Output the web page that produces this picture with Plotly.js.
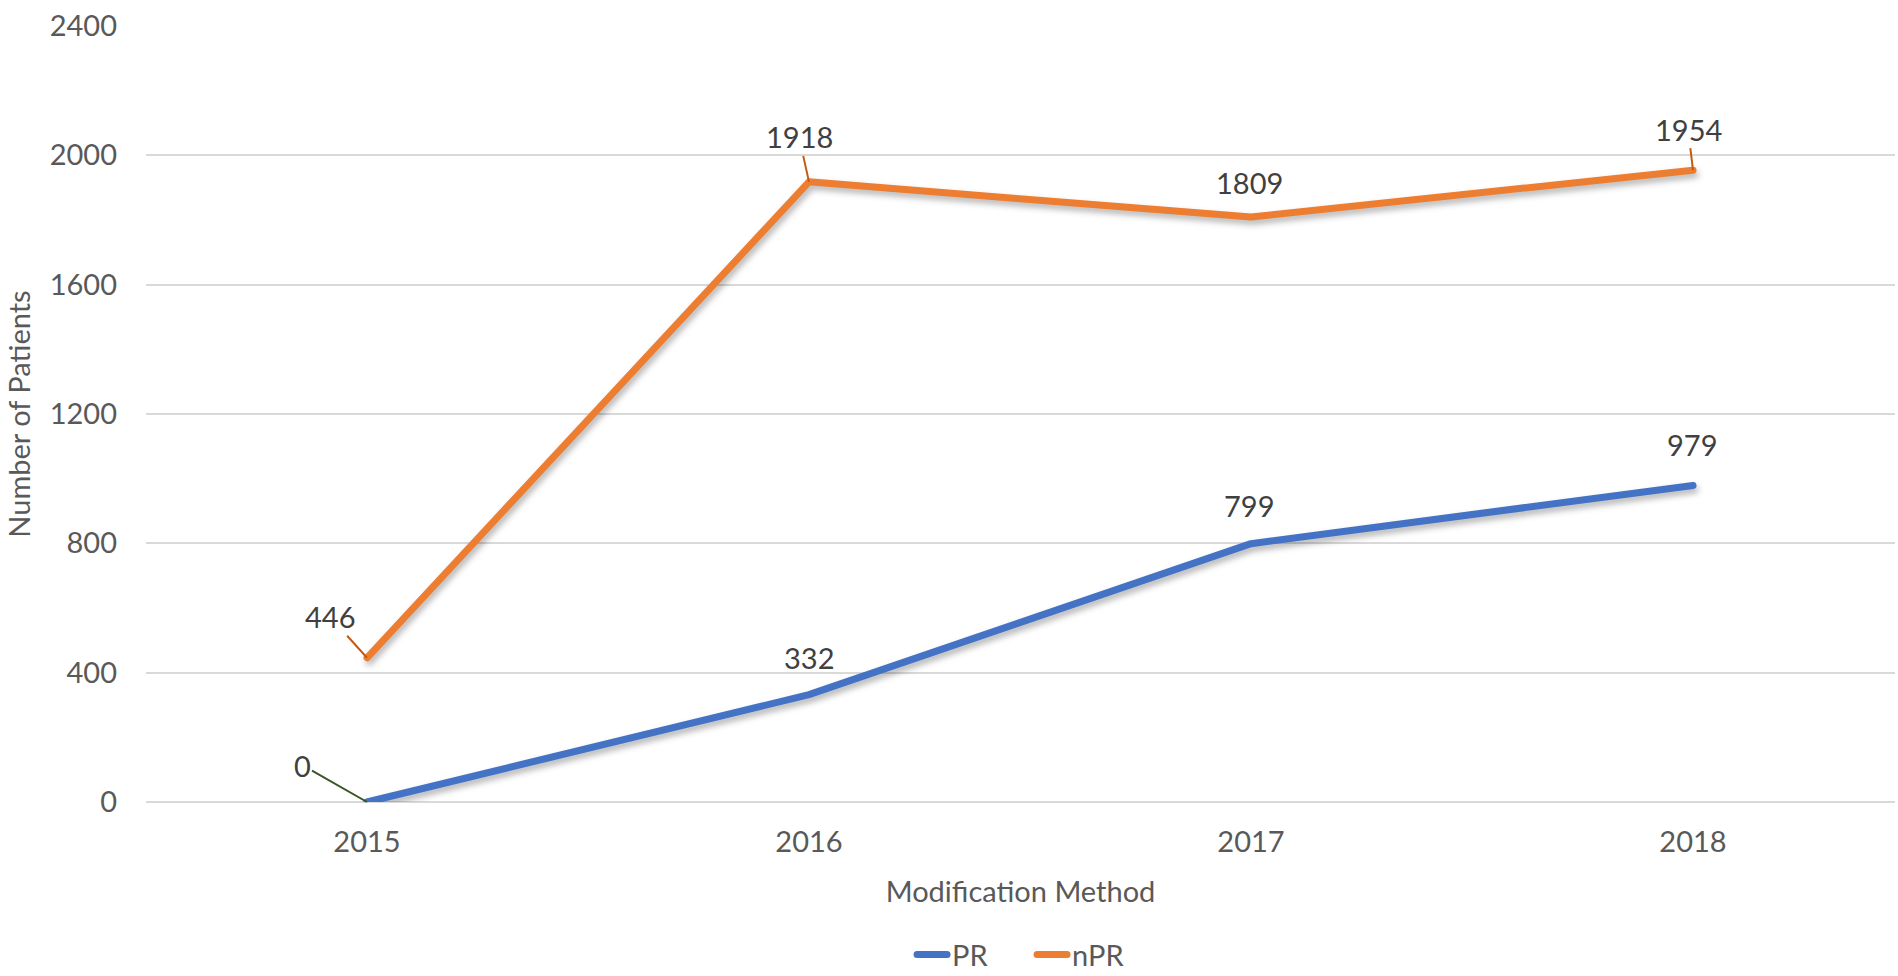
<!DOCTYPE html>
<html>
<head>
<meta charset="utf-8">
<script src="https://cdn.plot.ly/plotly-3.0.1.min.js"></script>
<style>
html,body{margin:0;padding:0;background:#fff;}
#chart{width:1898px;height:976px;}
#chart .scatterlayer .js-line{filter:drop-shadow(2px 4px 3px rgba(0,0,0,0.3));stroke-linecap:round;stroke-linejoin:round;}
#chart .legend .js-line{stroke-linecap:round;}
</style>
</head>
<body>
<div id="chart"></div>
<script>
const years = ['2015', '2016', '2017', '2018'];
const prValues = [0, 332, 799, 979];
const nprValues = [446, 1918, 1809, 1954];
const yTicks = [0, 400, 800, 1200, 1600, 2000, 2400];

const gray = '#595959';
const FONT = 'Lato, "Open Sans", sans-serif';
const FS = 29;

const traces = [
  {x: years, y: prValues, name: 'PR', type: 'scatter', mode: 'lines',
   line: {color: '#4472C4', width: 7}},
  {x: years, y: nprValues, name: 'nPR', type: 'scatter', mode: 'lines',
   line: {color: '#ED7D31', width: 7}}
];

// label offsets (px) relative to the point and leader visibility
const prLabelStyle = [
  {ax: -65, ay: -37, arrow: true, color: '#375623'},
  {ax: 0, ay: -37, arrow: false},
  {ax: -2, ay: -38, arrow: false},
  {ax: -1, ay: -41, arrow: false}
];
const nprLabelStyle = [
  {ax: -37, ay: -41, arrow: true, color: '#C55A11'},
  {ax: -10, ay: -45, arrow: true, color: '#C55A11'},
  {ax: -2, ay: -35, arrow: false},
  {ax: -5, ay: -41, arrow: true, color: '#C55A11'}
];

const annotations = [];
function addLabels(vals, styles) {
  vals.forEach((v, i) => {
    const s = styles[i];
    annotations.push({
      x: i, y: v, xref: 'x', yref: 'y',
      text: String(v), showarrow: true, arrowhead: 0,
      arrowwidth: 2, arrowcolor: s.arrow ? s.color : 'rgba(0,0,0,0)',
      ax: s.ax, ay: s.ay, standoff: 0,
      font: {family: FONT, size: FS, color: '#404040'}
    });
  });
}
addLabels(prValues, prLabelStyle);
addLabels(nprValues, nprLabelStyle);

const layout = {
  width: 1898, height: 976,
  margin: {l: 146, r: 3, t: 26, b: 174, autoexpand: false},
  paper_bgcolor: '#fff', plot_bgcolor: '#fff',
  font: {family: FONT, size: FS, color: gray},
  showlegend: true,
  legend: {orientation: 'h', x: 0.438, xanchor: 'left', yref: 'container', y: 0.022, yanchor: 'middle',
           font: {family: FONT, size: FS, color: gray}, traceorder: 'normal',
           entrywidth: 75, entrywidthmode: 'pixels'},
  xaxis: {
    type: 'category', range: [-0.5, 3.457],
    showgrid: false, zeroline: false, showline: false, ticks: '',
    ticklabelstandoff: 20, automargin: false,
    tickfont: {family: FONT, size: FS, color: gray},
    title: {text: 'Modification Method', font: {family: FONT, size: FS, color: gray}, standoff: 24},
    fixedrange: true
  },
  yaxis: {
    range: [0, 2400], tickvals: yTicks, ticktext: yTicks.map(String),
    showgrid: true, gridcolor: '#D9D9D9', gridwidth: 2,
    zeroline: true, zerolinecolor: '#D9D9D9', zerolinewidth: 2,
    showline: false, ticks: '', ticklabelstandoff: 28, automargin: false,
    tickfont: {family: FONT, size: FS, color: gray},
    title: {text: 'Number of Patients', font: {family: FONT, size: FS, color: gray}, standoff: 10},
    fixedrange: true
  },
  annotations: annotations
};

Plotly.newPlot('chart', traces, layout, {displayModeBar: false, staticPlot: true});
</script>
</body>
</html>
